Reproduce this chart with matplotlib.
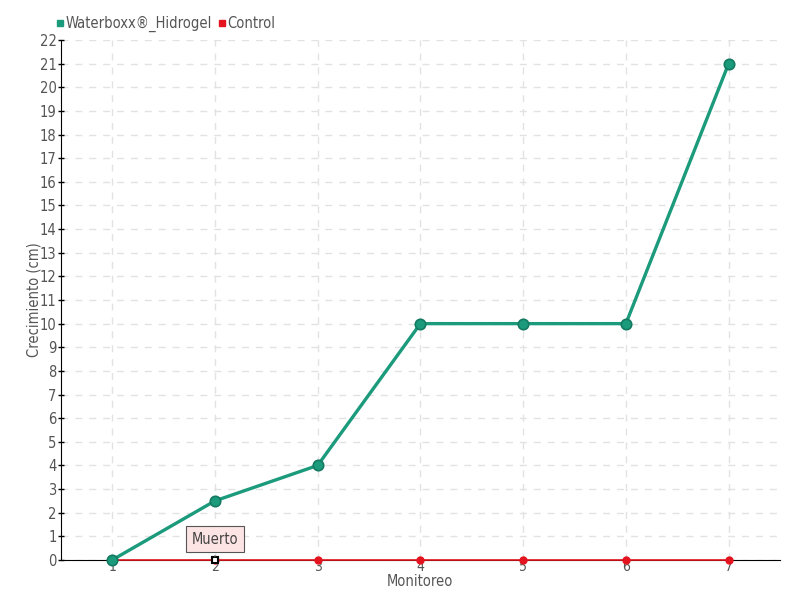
import matplotlib

matplotlib.use("Agg")
import matplotlib.pyplot as plt
from matplotlib.lines import Line2D

plt.rcParams["font.family"] = ["DejaVu Sans"]
plt.rcParams["font.stretch"] = "condensed"

monitoreo = [1, 2, 3, 4, 5, 6, 7]
waterboxx = [0, 2.5, 4, 10, 10, 10, 21]
control = [0, 0, 0, 0, 0, 0, 0]
yticks = list(range(0, 23))

GREEN = "#1b9a7c"
GREEN_EDGE = "#157a62"
RED = "#e3141f"
TXT = "#555555"

fig = plt.figure(figsize=(8, 6), dpi=100)
ax = fig.add_axes([0.076, 0.0667, 0.899, 0.8666])

ax.plot(monitoreo, control, color=RED, lw=1.2, marker="o", ms=5,
        mfc=RED, mec=RED, zorder=3, clip_on=False)
ax.plot(monitoreo, waterboxx, color=GREEN, lw=2.4, marker="o", ms=7.5,
        mfc=GREEN, mec=GREEN_EDGE, mew=1.2, zorder=4, clip_on=False)

# hovered point + tooltip
ax.plot([monitoreo[1]], [control[1]], marker="s", ms=5, mfc="white",
        mec="black", mew=1.5, zorder=5, clip_on=False)
ax.annotate("Muerto", xy=(monitoreo[1], control[1]), xytext=(0, 15),
            textcoords="offset points", ha="center", va="center",
            fontsize=10.5, color="#444444",
            bbox=dict(boxstyle="square,pad=0.4", fc="#fde4e4", ec="#555555", lw=0.8),
            arrowprops=dict(arrowstyle="-", color="#555555", lw=0.8), zorder=6)

ax.set_xlim(0.5, 7.5)
ax.set_ylim(0, 22)
ax.set_xticks(monitoreo)
ax.set_yticks(yticks)
ax.tick_params(axis="x", length=0, labelsize=10, labelcolor=TXT, pad=0)
ax.tick_params(axis="y", length=4, width=1, direction="inout", labelsize=10.5,
               labelcolor=TXT, pad=1)
ax.grid(True, ls=(0, (5, 5)), color="#e2e2e2", lw=1)
ax.set_axisbelow(True)
for s in ["top", "right"]:
    ax.spines[s].set_visible(False)
ax.spines["left"].set_color("black")
ax.spines["bottom"].set_color("black")
ax.spines["bottom"].set_linewidth(0.8)

ax.set_xlabel("Monitoreo", fontsize=10.5, color=TXT, labelpad=0)
ax.set_ylabel("Crecimiento (cm)", fontsize=10.5, color=TXT, labelpad=-1)

handles = [
    Line2D([], [], ls="none", marker="s", ms=4.5, mfc=GREEN, mec=GREEN),
    Line2D([], [], ls="none", marker="s", ms=4.5, mfc=RED, mec=RED),
]
fig.legend(handles, ["Waterboxx®_Hidrogel", "Control"], loc="upper left",
           bbox_to_anchor=(0.052, 0.995), ncol=2, frameon=False, fontsize=10.5,
           labelcolor=TXT, handletextpad=0.05, columnspacing=0.3, handlelength=0.7)

fig.savefig("out.png", dpi=100)
